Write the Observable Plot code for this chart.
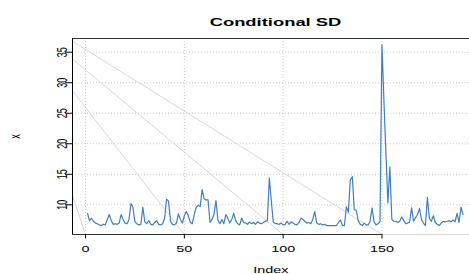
<!DOCTYPE html>
<html><head><meta charset="utf-8">
<script src="https://cdn.jsdelivr.net/npm/d3@7"></script>
<script src="https://cdn.jsdelivr.net/npm/@observablehq/plot@0.6"></script>
<style>
body{margin:0;background:#fff}
svg{font-family:"Liberation Sans",Arial,sans-serif}
</style>
</head><body><div id="chart"></div>
<script>
const title = "Conditional SD";
const xLabel = "Index";
const yLabel = "x";
const condSD = [
 8.6,7.4,7.8,7.3,7.0,6.9,6.7,6.6,6.8,6.7,
 7.6,8.4,7.4,6.8,6.9,6.8,7.0,8.4,7.6,7.0,
 6.9,7.6,10.2,9.6,7.2,6.9,6.7,6.8,9.6,7.2,
 6.9,7.4,6.8,6.7,7.1,7.4,6.8,6.7,6.9,7.8,
 10.9,10.6,7.3,6.8,6.7,7.0,8.5,7.6,7.0,8.2,
 8.9,8.2,7.1,6.9,8.4,9.6,9.9,9.7,12.5,11.0,
 10.8,10.8,7.1,7.6,8.4,10.7,7.5,6.9,7.6,6.9,
 8.4,7.8,7.0,7.6,8.6,7.4,6.9,6.7,7.8,7.1,
 7.0,6.8,7.2,6.9,7.1,6.8,7.2,7.0,6.9,7.1,
 7.3,7.4,14.4,10.7,7.2,6.9,6.9,6.8,7.0,6.7,
 6.8,7.3,6.8,7.2,7.0,6.8,6.7,7.1,7.8,7.6,
 7.3,7.0,7.1,6.9,7.6,8.9,7.0,6.8,6.9,6.7,
 6.8,6.6,6.6,6.6,6.6,6.6,6.6,7.1,7.5,6.6,
 6.6,9.7,8.8,14.1,14.6,9.2,9.1,7.4,6.8,6.6,
 7.0,6.7,6.7,7.3,9.5,7.2,6.7,6.9,7.2,36.2,
 27.0,18.5,10.3,16.2,7.6,7.3,7.3,7.1,7.3,8.0,
 7.4,6.9,7.0,7.2,9.5,7.3,7.9,8.4,9.4,7.6,
 7.0,6.6,11.2,7.8,7.3,8.2,7.1,6.8,6.6,7.0,
 7.3,7.2,7.3,7.4,7.2,7.5,7.2,8.6,7.1,9.6,
 8.4
];
const xTicks = [0, 50, 100, 150];
const yTicks = [10, 15, 20, 25, 30, 35];
const diagStart = [36.8, 33.9, 28.7, 11.5];
const diagEnd = [150, 100, 50, 0];
const xDomain = [-6.6, 194.3];
const yDomain = [5.13, 37.25];

const series = condSD.map((v, i) => ({index: i + 1, sd: v}));
const diag = diagStart.flatMap((s, k) => [
  {k, x: xDomain[0], y: s},
  {k, x: diagEnd[k], y: yDomain[0]},
  {k, x: xDomain[1], y: yDomain[0]}
]);

const chart = Plot.plot({
  width: 469, height: 274,
  marginLeft: 72, marginRight: 0, marginTop: 38, marginBottom: 40,
  style: {fontSize: "9px", fontFamily: "'Liberation Sans', Arial, sans-serif", background: "white", color: "#000", overflow: "visible"},
  x: {domain: xDomain},
  y: {domain: yDomain},
  marks: [
    Plot.ruleX(xTicks, {stroke: "#cccccc", strokeDasharray: "1,2"}),
    Plot.ruleY(yTicks, {stroke: "#cccccc", strokeDasharray: "1,2"}),
    Plot.line(diag, {x: "x", y: "y", z: "k", stroke: "#d8d8d8", strokeWidth: 1}),
    Plot.ruleY([{y: yDomain[0], x1: xDomain[0], x2: diagEnd[0]}], {y: "y", x1: "x1", x2: "x2", stroke: "#333"}),
    Plot.ruleY([yDomain[1]], {stroke: "#333"}),
    Plot.ruleX([xDomain[0]], {stroke: "#000"}),
    Plot.line(series, {x: "index", y: "sd", stroke: "#3f7fbf", strokeWidth: 1.2}),
    Plot.axisX(xTicks, {tickSize: 4.5, tickPadding: 7, label: xLabel, labelAnchor: "center", labelOffset: 38, labelArrow: "none"}),
    Plot.axisY(yTicks, {tickSize: 7, tickPadding: 0, tickRotate: -90, label: yLabel, labelAnchor: "center", labelOffset: 61, labelArrow: "none"}),
    Plot.text([title], {text: d => d, frameAnchor: "top", dy: -20.7, dx: 4.5, fontWeight: "bold", fontSize: 11.5})
  ]
});
document.getElementById("chart").appendChild(chart);

// the reference is horizontally stretched: widen every text around its centre
chart.querySelectorAll("text").forEach(t => {
  const r = t.getBoundingClientRect();
  const m = t.parentNode.getScreenCTM().inverse();
  const p = new DOMPoint(r.x + r.width / 2, r.y + r.height / 2).matrixTransform(m);
  const old = t.getAttribute("transform") || "";
  const s = 1.6;
  t.setAttribute("transform", `translate(${p.x},${p.y}) scale(${s},1) translate(${-p.x},${-p.y}) ${old}`);
});
</script>
</body></html>
